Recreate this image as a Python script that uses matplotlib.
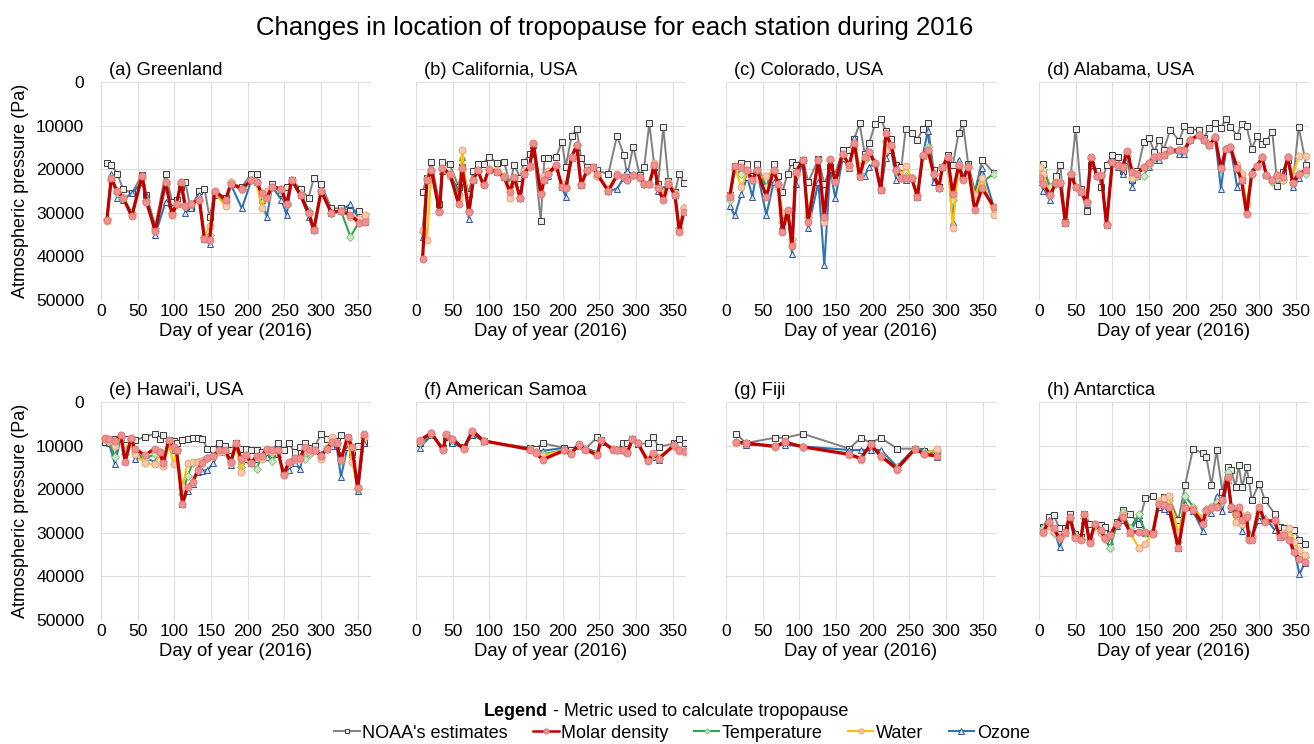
import matplotlib
matplotlib.use("Agg")
import matplotlib.pyplot as plt
from matplotlib.lines import Line2D

plt.rcParams['font.family'] = ['Liberation Sans', 'DejaVu Sans']

# -----------------------------
# Data (pressure values in thousands of Pa)
# -----------------------------
titles = ["(a) Greenland", "(b) California, USA", "(c) Colorado, USA", "(d) Alabama, USA",
          "(e) Hawai'i, USA", "(f) American Samoa", "(g) Fiji", "(h) Antarctica"]
series_names = ["NOAA's estimates", "Molar density", "Temperature", "Water", "Ozone"]

# (a) Greenland
days_a = [8, 14, 22, 30, 42, 56, 62, 74, 88, 97, 103, 109, 115, 122, 134, 141, 148, 155, 170, 177,
          192, 205, 212, 219, 226, 233, 246, 253, 260, 272, 283, 290, 300, 314, 327, 340, 352, 360]
noaa_a = [18.5, 19, 21, 24.5, 25.5, 21.3, 26, 33, 21, 27.5, 27, 24, 23, 29, 25, 24.5, 31, 25.5, 26.5, 23.3,
          24, 21, 21, 26.5, 25.5, 23.5, 25.5, 24, 22.5, 24.5, 26.5, 22, 23.5, 29, 29, 29.5, 29.5, 31]
molar_a = [31.7, 22.1, 25, 26.5, 30.8, 21.5, 27.5, 34.2, 23, 30.5, 28, 23, 28.5, 28, 27, 36, 36.3, 25, 27, 23.3,
           24.5, 22.5, 23, 25.5, 26.5, 24, 24.5, 28, 22.5, 26, 30, 34, 25, 30, 29.5, 30.5, 32.3, 32]
temp_a = [31.5, 22.5, 25.5, 26.5, 30, 22, 27, 33.5, 23.5, 30, 28, 23.5, 28.5, 28, 27, 35.5, 35, 25.5, 27.5, 23,
          24.5, 22.5, 23, 26, 26, 24, 25, 28, 22.5, 25.5, 29.5, 33.5, 25, 30, 29.5, 35.5, 32, 31.5]
water_a = [31.8, 22.5, 25, 26.5, 30.5, 21.5, 27.5, 34, 23, 30, 28, 23, 28.5, 28, 27, 35.5, 33, 25.5, 28.5, 23,
           24.5, 22.5, 23, 29, 25, 24, 24.5, 28, 22.5, 26, 30, 34, 25, 30, 29.5, 31, 31.5, 30.5]
ozone_a = [31.5, 21, 26.5, 27, 25.5, 23, 26, 35, 27.5, 29.5, 28, 23.5, 30, 29, 26, 36, 37.2, 26, 27.5, 23.5,
           29, 22.5, 23, 27, 31, 24, 27, 30.5, 22.5, 26, 31, 34, 25, 30, 29.5, 28, 31.5, 32]

# (b) California
days_b = [9, 15, 21, 32, 36, 46, 58, 63, 72, 78, 84, 92, 99, 110, 120, 128, 134, 142, 147, 155,
          160, 170, 175, 180, 191, 199, 204, 212, 219, 225, 233, 241, 247, 262, 274, 283, 288, 296, 305, 311,
          318, 325, 330, 337, 344, 353, 359, 365]
noaa_b = [25.2, 22, 18.3, 28, 18.3, 18.9, 24, 19.5, 25.6, 20.4, 18.9, 18.7, 17.1, 18.5, 18.3, 23.3, 19, 22, 18.3, 16.5,
          14.5, 31.9, 17.5, 17.5, 17.2, 13.7, 19.5, 12.4, 10.8, 17.5, 19.5, 19.5, 20.2, 21.2, 12.3, 16.7, 21.4, 14.8, 21.4, 19.5,
          9.5, 19.5, 23.5, 10.3, 22.7, 25.2, 21, 23.2]
molar_b = [40.5, 22.5, 20.2, 29.8, 19.8, 21, 27.9, 19.8, 29.8, 22.5, 20.2, 23.7, 20.1, 20.6, 21.8, 25.2, 21.8, 26.7, 21, 19.3,
           14.1, 25.6, 22.5, 21, 19.1, 24, 24.4, 17.2, 14.5, 23.7, 20.2, 19.5, 21.1, 25, 21.4, 21.8, 22.5, 21.4, 21.8, 23.3,
           23.3, 19.1, 24.4, 27.1, 23.3, 26, 34.4, 29.8]
temp_b = [34.5, 22, 20.2, 29.5, 20, 21, 26, 20, 29.5, 22.5, 20.5, 23.5, 20, 20.5, 21.8, 23.5, 22, 26.5, 21, 19.5,
          14.3, 25.5, 22.5, 21, 19.3, 24, 24.4, 17.5, 14.5, 23.5, 20.5, 19.5, 21.5, 25, 21.4, 21.8, 22.5, 21.4, 22, 23.3,
          23.3, 19.5, 24, 25.5, 23.3, 26, 33.5, 29]
water_b = [34, 36.3, 20.5, 29.5, 20, 21.5, 26.5, 15.5, 29.5, 22.5, 20.5, 23.5, 20, 20.2, 21.5, 26.5, 22, 26.5, 20.5, 19.3,
           14.3, 25.5, 21.5, 20.5, 19.5, 23.5, 24, 17.5, 14.5, 23.5, 20.5, 19.8, 21.5, 24.5, 21, 21.8, 22, 21.4, 22, 23.3,
           23.5, 18.5, 24, 26, 23, 25.5, 34, 29]
ozone_b = [35.5, 22.5, 20.5, 29.5, 20.5, 21, 25, 17.2, 31.5, 22.5, 20.2, 23.5, 20.1, 20.6, 21.8, 24.5, 21.8, 26.5, 21, 19.3,
           14.5, 25, 22.5, 21.5, 19.5, 24, 26.3, 17.5, 14.8, 23.7, 20.2, 19.5, 21.1, 25, 24.5, 22, 20.5, 21.4, 21.8, 23.3,
           23.3, 19.1, 25, 24.5, 23.3, 26, 34, 29.5]

# (c) Colorado
days_c = [5, 12, 21, 29, 36, 42, 55, 65, 71, 77, 84, 90, 95, 105, 112, 126, 134, 142, 149, 159,
          168, 175, 182, 189, 195, 203, 211, 218, 225, 232, 239, 245, 253, 261, 268, 275, 283, 290, 295, 302,
          309, 317, 323, 330, 339, 349, 365]
noaa_c = [26, 19.3, 18.5, 18.8, 21.5, 18.8, 24, 18.8, 21.5, 25.2, 21, 18.3, 19, 17.8, 23, 17.6, 23.5, 19.5, 21, 15.6,
          15.5, 13, 9.5, 16.4, 14.1, 9.7, 8.6, 11.2, 13, 19, 19.6, 10.7, 11.8, 13.2, 10.7, 9.5, 20.2, 24, 19.5, 16.8,
          19.1, 11.8, 9.4, 18.7, 25.2, 17.9, 20.8]
molar_c = [26.3, 19.3, 19.6, 20.2, 22.5, 20.2, 26.3, 20.2, 23.3, 34.4, 29.4, 37.5, 20.6, 17.9, 32, 17.9, 30.9, 17.6, 22.9, 16.4,
           19.1, 14.1, 21.8, 17.2, 16, 18.5, 24.8, 11.8, 14.5, 20.2, 22.1, 22.1, 22.1, 26.3, 16.8, 15.6, 21, 24.4, 19.5, 17.2,
           25.6, 19.1, 22.5, 19.5, 29.4, 24.4, 28.6]
temp_c = [27, 20, 21, 20.5, 22.5, 20.5, 24, 20.5, 23.5, 32, 29.5, 36, 21, 18, 31, 18, 31.5, 18, 22.5, 16.5,
          19, 14.5, 21, 18, 17, 18.5, 24.5, 13.5, 15, 20.5, 22, 21.5, 22, 26, 17, 15, 21, 24.4, 19.5, 17.5,
          27, 19, 22, 19.5, 27, 23, 21]
water_c = [26, 19.8, 24, 20.5, 22.5, 22, 21.5, 20.3, 24, 30, 30, 37, 21, 18, 30, 18, 32, 17.8, 22, 16.8,
           19.5, 15, 19.3, 17.5, 16, 18.5, 24.5, 15.5, 15, 20, 21.5, 19.2, 22, 26, 17, 15.5, 21, 24.4, 19.5, 17.5,
           33.5, 19.5, 22, 19.5, 26, 22, 30.5]
ozone_c = [28.5, 30.6, 25.6, 21.8, 26.3, 20.2, 30.5, 23, 23.3, 33, 29.4, 39.5, 23.5, 18, 33.4, 23, 42, 20, 26.7, 17.5,
           19.8, 12.8, 21.5, 21.5, 19.5, 18.5, 24.8, 17.5, 15.5, 22.5, 22.1, 22.5, 22.1, 26.3, 17, 11.3, 23, 24.4, 19.5, 17.6,
           32, 17.8, 21.8, 18.9, 25.3, 19.8, 28.6]

# (d) Alabama
days_d = [2, 6, 15, 23, 29, 36, 43, 50, 57, 65, 71, 79, 85, 92, 100, 107, 114, 120, 127, 134,
          143, 150, 157, 164, 170, 179, 191, 198, 206, 218, 225, 232, 240, 248, 255, 261, 270, 276, 283, 290,
          297, 304, 310, 318, 325, 332, 339, 346, 354, 364]
noaa_d = [22.5, 18.8, 24.5, 21.5, 19, 32, 21.8, 10.7, 24.5, 29.5, 19, 20.5, 24, 19, 16.8, 17.2, 20.3, 18, 22.5, 20.5,
          13.7, 12.8, 16, 13.2, 15.5, 10.9, 13.5, 10.2, 10.9, 11, 12.8, 10.5, 9.5, 10.5, 8.5, 10.3, 12.3, 9.6, 10.2, 15.3,
          12.5, 14.3, 13.5, 11.5, 23.9, 20.6, 18, 23, 10.3, 19]
molar_d = [22.1, 23.4, 26, 23.1, 23.1, 32.4, 21, 24, 25.2, 27.5, 17.2, 21.6, 21.4, 32.8, 18.3, 19.1, 19.5, 15.8, 20.6, 21,
           19.5, 18.5, 17.2, 17, 16.8, 15.6, 15.6, 15.6, 13.2, 12.2, 13.4, 14.5, 12.7, 19.8, 15.3, 15, 19.8, 22.5, 30.3, 21,
           19.3, 17.3, 21.4, 22.5, 21.4, 21.9, 17.3, 23.1, 21, 20.2]
temp_d = [21.3, 20.2, 24, 23.5, 23.1, 32, 21, 24, 25, 27.5, 17.5, 21.5, 21.5, 32.5, 18.5, 19, 19.5, 17, 20.3, 21.5,
          21.5, 19, 17.5, 17, 16.8, 15.6, 15.6, 15.6, 13.2, 12.2, 13.4, 14.5, 12.7, 20, 15.3, 15, 20, 22, 30, 21,
          19.3, 17.3, 21.4, 23, 22, 22.5, 17.3, 23, 21, 21]
water_d = [19.5, 21, 26, 23, 23, 32, 21, 24, 25, 27.5, 17.5, 21.5, 21.5, 32.5, 18.5, 19, 19.5, 16, 22, 21,
           19.5, 18.5, 17.2, 17, 16.8, 15.6, 15.6, 15.6, 13.2, 12.2, 13.4, 14.5, 12.7, 19.8, 15.3, 15, 19, 21, 28, 21,
           19.3, 17.3, 21.4, 22.5, 21.4, 22.5, 17.3, 21.5, 17, 17]
ozone_d = [23, 25, 27, 23.1, 23.1, 32.4, 21, 24, 25.2, 28, 17.2, 21.6, 21.4, 32.8, 18.3, 19.5, 21, 16.5, 24, 21.5,
           19.5, 19.5, 18, 18, 16.8, 15.6, 16.5, 16.5, 13.2, 12.2, 13.4, 14.5, 12.7, 24.5, 15.3, 15, 24, 22.5, 29.5, 20.5,
           19.3, 17.3, 21.4, 22.5, 21.4, 21.9, 17.3, 24, 22, 20.2]

# (e) Hawai'i
days_e = [5, 11, 19, 27, 33, 41, 46, 60, 73, 80, 85, 92, 99, 103, 111, 118, 125, 132, 138, 145,
          153, 161, 169, 177, 184, 191, 197, 205, 212, 219, 226, 233, 241, 249, 256, 264, 271, 278, 285, 292,
          300, 308, 315, 321, 327, 336, 342, 350, 358]
noaa_e = [9.2, 9, 8.4, 8.2, 8.5, 8.5, 8.8, 8, 7.3, 8.5, 7.6, 8.8, 9, 9.5, 8.8, 8.4, 8.2, 8.2, 8.4, 10.7,
          10.7, 9.4, 10.2, 11, 9.5, 10.7, 10.7, 11, 11, 11.5, 11, 11, 9.5, 11, 9.5, 11.5, 10.3, 9.5, 10.5, 10,
          7.3, 8.4, 9.5, 9, 7.6, 8.4, 11.4, 10, 9.5]
molar_e = [8.2, 8.6, 9, 7.6, 13.7, 8.2, 10.7, 12.2, 10.7, 11.5, 14.1, 8.8, 10.3, 11.1, 23.3, 19.5, 18.3, 15.6, 13.9, 12.8,
           12.4, 11.1, 11.1, 13.7, 9.5, 13, 12.2, 13.9, 12.4, 12.4, 10.7, 11.1, 11.1, 16.8, 13.7, 12.9, 12.9, 10.3, 11.1, 11.1,
           12.4, 10.7, 9.2, 9.5, 13.4, 8, 10.3, 19.8, 7.3]
temp_e = [8.5, 9, 12.5, 8, 12, 8.5, 11.5, 13, 12, 11.5, 13.5, 9, 10.5, 11, 21, 17, 14, 13.7, 13.5, 12.8,
          12.4, 11.2, 11.2, 13.5, 9.8, 15, 12.5, 14, 15.3, 12.5, 11, 13.5, 11.5, 16.5, 14, 13, 13, 13, 12, 11,
          12.5, 10.7, 9.5, 9.5, 13.5, 8.5, 11, 20, 8]
water_e = [8.5, 9, 10, 8, 11, 9, 12, 14, 14.3, 12, 14.6, 9.5, 14.3, 11, 19.5, 14, 13.7, 13.8, 13.5, 12.8,
           12.4, 11.5, 11.5, 14, 10, 16, 12.5, 14, 12.5, 13, 11, 11.5, 11.5, 16.3, 14, 13, 13, 11, 11.5, 11,
           13, 10.5, 8, 9.5, 12.5, 8.5, 13.7, 19.5, 8]
ozone_e = [8.5, 9.5, 14.3, 8, 13.5, 9, 13, 12.8, 13.7, 11.5, 13.7, 9.5, 11, 11.1, 23.5, 20.3, 18.7, 16, 15.8, 15.6,
           14, 11.5, 11.5, 14.5, 10, 13.5, 13, 14, 13, 12.4, 12.5, 12, 12, 16, 15.6, 14, 15.3, 11, 11.5, 11,
           12, 10.7, 10, 10, 17.2, 10.3, 12, 20.5, 9.5]

# (f) American Samoa
days_f = [5, 21, 37, 41, 49, 65, 77, 92, 156, 163, 173, 202, 211, 222, 231, 247, 252, 268, 274, 282,
          288, 295, 302, 316, 323, 331, 352, 358, 366]
noaa_f = [9.5, 7.5, 10.5, 8, 9.2, 10.3, 7.4, 9, 10.5, 10.7, 9.5, 10.5, 11, 9.8, 10.7, 8.1, 8.8, 10.7, 11, 9.5,
          9.5, 8.5, 9.6, 9.5, 8, 10.3, 9.5, 8.5, 9.5]
molar_f = [8.8, 7.1, 11.1, 7.4, 8.4, 10.7, 6.6, 8.9, 10.9, 11.8, 13.2, 11.1, 12, 9.7, 10.9, 12.2, 8.8, 10.9, 11.1, 11.1,
           11.7, 8.4, 9.4, 13.6, 11.8, 13, 9.9, 11.1, 11.2]
temp_f = [9.2, 7.3, 10.8, 7.6, 8.8, 10.6, 7, 8.9, 10.8, 11.4, 12, 11, 11.8, 9.8, 10.8, 11.8, 9, 10.8, 11, 11,
          11.5, 8.5, 9.4, 13.3, 12.2, 12.8, 10, 11, 11.3]
water_f = [9, 7.2, 10.8, 7.5, 8.6, 10.6, 6.8, 8.9, 10.8, 11.5, 12.3, 11, 11.8, 9.8, 10.8, 12, 9, 10.8, 11, 11,
           11.4, 8.5, 9.4, 13, 12, 12.5, 10, 11.2, 11.5]
ozone_f = [10.5, 7.6, 10.5, 7.8, 9.5, 10.5, 7.5, 9, 10.7, 11.2, 11.2, 10.5, 11.5, 10, 10.5, 11.6, 9.2, 10.7, 11, 11,
           11.5, 8.6, 9.4, 13.2, 12.7, 13.2, 9.5, 11, 11]

# (g) Fiji
days_g = [14, 27, 67, 80, 105, 168, 184, 197, 211, 233, 258, 270, 287]
noaa_g = [7.3, 9.4, 8.2, 8.2, 7.3, 10.7, 8.2, 9.4, 8.2, 10.7, 10.7, 11.2, 11.5]
molar_g = [9.2, 9.4, 10.2, 9.2, 10.3, 12, 13, 9.7, 12.4, 15.3, 10.7, 12, 12.4]
temp_g = [9.2, 9.4, 10.3, 9.1, 10.3, 12, 12.8, 9.8, 12.3, 15, 10.7, 11.5, 11.2]
water_g = [9.3, 9.3, 10.4, 9, 10.3, 12.2, 13.2, 9.8, 12.5, 15.6, 10.8, 12, 10.7]
ozone_g = [9.2, 9.8, 10, 9.8, 10.2, 11, 11, 11, 11, 14.8, 10.5, 11, 12.5]

# (h) Antarctica
days_h = [5, 14, 20, 28, 36, 42, 49, 57, 62, 69, 76, 84, 90, 97, 106, 114, 124, 136, 145, 155,
          163, 171, 177, 190, 199, 210, 223, 228, 235, 242, 250, 257, 262, 268, 272, 277, 283, 286, 290, 300,
          308, 321, 328, 334, 341, 348, 355, 362]
noaa_h = [28.6, 26.3, 26, 29, 29, 25.6, 30.2, 30.9, 25.6, 27.9, 28.2, 28.2, 28.6, 30.2, 27.5, 24.8, 25.6, 27.9, 22.1, 21.5,
          23.1, 21.8, 21.8, 27.1, 19.1, 10.7, 11.8, 12.6, 19.1, 11.1, 20.6, 14.9, 15.6, 19.5, 14.5, 19.5, 15, 17.9, 22.5, 18.7,
          22.5, 25.6, 28.6, 29, 29.4, 29.4, 31.7, 32.6]
molar_h = [29.8, 27.5, 29, 31.3, 29.8, 26.3, 31.3, 31.7, 25.6, 32.4, 27.9, 29.4, 31.3, 30.5, 27.9, 26.3, 29.8, 29.8, 29.8, 30.3,
           23.3, 23.7, 24, 33.6, 24.4, 24.8, 27.9, 24.8, 24.4, 24, 22.5, 17.2, 24, 25.6, 24, 27.1, 26.3, 31.7, 31.7, 24,
           27.5, 27.1, 30.9, 30.5, 31.7, 34.4, 35.9, 36.6]
temp_h = [29, 27.5, 30, 31, 30, 26.5, 30.5, 31.5, 26.5, 31.5, 28.5, 29.5, 31.5, 33.5, 28, 25.3, 29, 25.8, 30, 29.5,
          23.5, 22.5, 22.5, 32, 21.5, 24, 27, 24.5, 24, 23, 23, 16, 24, 26, 25.5, 28, 26, 31, 31, 25.5,
          27, 27.5, 30.5, 30.5, 30.5, 33.5, 35, 35.5]
water_h = [30, 28.5, 29.5, 31, 30, 26.5, 31, 31.5, 26, 32, 28, 30, 31.5, 30.5, 28, 26, 30, 33.4, 32.5, 30,
           22.7, 22, 21.5, 30, 24, 24.5, 26.5, 25, 24, 24, 22.5, 18, 24, 27.5, 25, 28, 26, 31.5, 31, 25,
           27, 27.5, 30.5, 30, 29, 32, 34, 35]
ozone_h = [29, 27, 29, 33.3, 30, 26.5, 30, 31.5, 27, 31.5, 28, 29.5, 31, 31.8, 28.5, 27, 30, 26, 30, 30,
           24, 24.5, 25, 33.5, 23.5, 25, 29.5, 25, 25.5, 21.5, 25, 18, 24.5, 27, 25, 29.5, 26, 30, 31, 27,
           26.5, 29.3, 31, 30.5, 31, 34, 39.5, 37]

panels = [
    (days_a, noaa_a, molar_a, temp_a, water_a, ozone_a),
    (days_b, noaa_b, molar_b, temp_b, water_b, ozone_b),
    (days_c, noaa_c, molar_c, temp_c, water_c, ozone_c),
    (days_d, noaa_d, molar_d, temp_d, water_d, ozone_d),
    (days_e, noaa_e, molar_e, temp_e, water_e, ozone_e),
    (days_f, noaa_f, molar_f, temp_f, water_f, ozone_f),
    (days_g, noaa_g, molar_g, temp_g, water_g, ozone_g),
    (days_h, noaa_h, molar_h, temp_h, water_h, ozone_h),
]

# -----------------------------
# Styles
# -----------------------------
styles = {
    "NOAA's estimates": dict(color='#808080', lw=1.4, marker='s', ms=4.3, mfc='#ececec', mec='#3a3a3a', mew=0.7, zorder=2),
    "Ozone": dict(color='#2e75b6', lw=1.5, marker='^', ms=5, mfc='#dce6f2', mec='#2f5597', mew=0.7, zorder=3),
    "Temperature": dict(color='#2ca84a', lw=1.5, marker='D', ms=3.6, mfc='#cfe8c8', mec='#86c286', mew=0.7, zorder=4),
    "Water": dict(color='#ffc000', lw=1.5, marker='o', ms=5, mfc='#f8cbad', mec='#eaa27a', mew=0.7, zorder=5),
    "Molar density": dict(color='#c00000', lw=2.3, marker='o', ms=5, mfc='#ef8f8f', mec='#e07a7a', mew=0.7, zorder=6),
}

# -----------------------------
# Figure
# -----------------------------
W, H = 1314, 744
fig = plt.figure(figsize=(W / 100, H / 100), dpi=100)

col_left = [101, 416, 726, 1039]
row_top = [82, 402]
ax_w, ax_h = 270, 218

for i, (days, noaa, molar, temp, water, ozone) in enumerate(panels):
    r, c = divmod(i, 4)
    ax = fig.add_axes([col_left[c] / W, (H - row_top[r] - ax_h) / H, ax_w / W, ax_h / H])
    data = {"NOAA's estimates": noaa, "Molar density": molar, "Temperature": temp,
            "Water": water, "Ozone": ozone}
    for name in ["NOAA's estimates", "Ozone", "Temperature", "Water", "Molar density"]:
        ax.plot(days, [v * 1000 for v in data[name]], **styles[name])

    ax.set_xlim(0, 368)
    ax.set_ylim(50000, 0)
    ax.set_xticks(range(0, 351, 50))
    ax.set_yticks(range(0, 50001, 10000))
    ax.grid(True, color='#dedede', lw=0.8)
    ax.set_axisbelow(True)
    for s in ax.spines.values():
        s.set_visible(False)
    ax.tick_params(length=0, labelsize=12.5, colors='#000000')
    ax.tick_params(axis='x', pad=3)
    ax.tick_params(axis='y', pad=12)
    if c == 0:
        ax.set_ylabel("Atmospheric pressure (Pa)", fontsize=13)
        ax.yaxis.set_label_coords(-0.265, 0.5)
    else:
        ax.set_yticklabels([])
    ax.set_xlabel("Day of year (2016)", fontsize=13.3)
    ax.xaxis.set_label_coords(0.5, -0.105)
    ax.text(0.03, 1.012, titles[i], transform=ax.transAxes, fontsize=13.2, ha='left', va='bottom')

fig.text(615 / W, 1 - 28 / H, "Changes in location of tropopause for each station during 2016",
         fontsize=18.5, ha='center', va='center')

# -----------------------------
# Legend
# -----------------------------
fig.text(548 / W, 32 / H, "Legend", fontsize=13, fontweight='bold', ha='right', va='center')
fig.text(548 / W, 32 / H, " - Metric used to calculate tropopause", fontsize=13, ha='left', va='center')

handles = []
for name in series_names:
    st = dict(styles[name])
    st.pop('zorder')
    st['ms'] = st['ms'] * 0.75
    st['lw'] = min(st['lw'], 1.8)
    handles.append(Line2D([], [], **st))
fig.legend(handles, series_names, loc='center', bbox_to_anchor=(682 / W, 11 / H), ncol=5,
           frameon=False, fontsize=13, handlelength=1.4, handletextpad=0.15, columnspacing=1.4,
           borderpad=0, borderaxespad=0)

fig.savefig("out.png", dpi=100)
